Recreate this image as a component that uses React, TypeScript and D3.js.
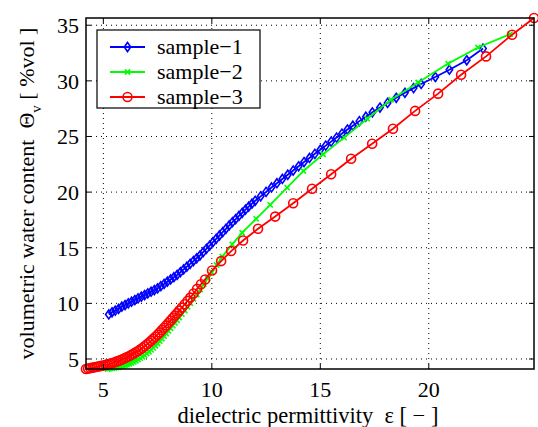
import React from "react";
import * as d3 from "d3";

// sample-1 (blue diamonds)
const s1x = [5.25, 5.4, 5.55, 5.7, 5.85, 6.0, 6.15, 6.3, 6.45, 6.6, 6.75, 6.9, 7.05, 7.2, 7.35, 7.5, 7.65, 7.8, 7.95, 8.1, 8.25, 8.4, 8.55, 8.7, 8.85, 9.0, 9.15, 9.3, 9.45, 9.6, 9.75, 9.9, 10.05, 10.2, 10.35, 10.5, 10.65, 10.8, 10.95, 11.1, 11.25, 11.4, 11.55, 11.7, 11.85, 12.0, 12.25, 12.5, 12.75, 13.0, 13.25, 13.5, 13.75, 14.0, 14.25, 14.5, 14.75, 15.0, 15.25, 15.5, 15.75, 16.0, 16.25, 16.5, 16.8, 17.1, 17.4, 17.75, 18.1, 18.5, 18.9, 19.3, 19.65, 20.3, 20.95, 21.75, 22.5];
const s1y = [9.0, 9.2, 9.35, 9.5, 9.7, 9.85, 10.0, 10.15, 10.3, 10.45, 10.6, 10.75, 10.9, 11.05, 11.2, 11.35, 11.55, 11.75, 11.95, 12.15, 12.35, 12.55, 12.8, 13.05, 13.3, 13.55, 13.8, 14.05, 14.3, 14.6, 14.9, 15.2, 15.5, 15.8, 16.1, 16.4, 16.7, 17.0, 17.3, 17.58, 17.86, 18.14, 18.42, 18.7, 18.96, 19.22, 19.62, 20.02, 20.42, 20.8, 21.18, 21.56, 21.94, 22.32, 22.7, 23.07, 23.44, 23.81, 24.18, 24.54, 24.9, 25.26, 25.62, 25.97, 26.38, 26.78, 27.17, 27.6, 28.02, 28.48, 28.93, 29.35, 29.72, 30.35, 31.0, 31.85, 32.9];

// sample-2 (green crosses)
const s2x = [5.2, 5.3, 5.4, 5.5, 5.6, 5.7, 5.8, 5.9, 6.0, 6.1, 6.2, 6.3, 6.4, 6.5, 6.6, 6.7, 6.8, 6.9, 7.0, 7.1, 7.2, 7.3, 7.4, 7.5, 7.6, 7.7, 7.8, 7.9, 8.0, 8.1, 8.2, 8.3, 8.4, 8.5, 8.62, 8.75, 8.88, 9.01, 9.15, 9.3, 9.46, 9.63, 9.81, 10.0, 10.22, 10.48, 10.94, 11.4, 12.04, 12.69, 13.47, 14.22, 15.13, 16.1, 17.16, 18.26, 19.51, 20.89, 22.27, 23.75];
const s2y = [4.1, 4.13, 4.16, 4.19, 4.22, 4.26, 4.31, 4.37, 4.43, 4.5, 4.57, 4.65, 4.74, 4.84, 4.95, 5.07, 5.2, 5.34, 5.49, 5.65, 5.82, 6.0, 6.19, 6.39, 6.6, 6.82, 7.05, 7.28, 7.52, 7.76, 8.0, 8.24, 8.48, 8.73, 9.03, 9.36, 9.69, 10.02, 10.4, 10.8, 11.24, 11.72, 12.24, 12.8, 13.45, 14.2, 15.3, 16.35, 17.6, 18.85, 20.4, 21.9, 23.4, 24.9, 26.6, 28.3, 29.85, 31.55, 33.0, 34.2];

// sample-3 (red circles)
const s3x = [4.2, 4.3, 4.4, 4.5, 4.6, 4.7, 4.8, 4.9, 5.0, 5.1, 5.2, 5.3, 5.4, 5.5, 5.6, 5.7, 5.8, 5.9, 6.0, 6.1, 6.2, 6.3, 6.4, 6.5, 6.6, 6.7, 6.8, 6.9, 7.0, 7.1, 7.2, 7.3, 7.4, 7.5, 7.6, 7.7, 7.8, 7.9, 8.0, 8.1, 8.2, 8.3, 8.4, 8.5, 8.62, 8.75, 8.88, 9.01, 9.16, 9.32, 9.5, 9.69, 10.01, 10.43, 10.89, 11.44, 12.13, 12.92, 13.75, 14.62, 15.5, 16.42, 17.39, 18.35, 19.37, 20.43, 21.49, 22.64, 23.84, 24.85];
const s3y = [4.1, 4.14, 4.18, 4.22, 4.26, 4.3, 4.34, 4.38, 4.42, 4.47, 4.52, 4.57, 4.63, 4.69, 4.76, 4.83, 4.91, 4.99, 5.08, 5.17, 5.27, 5.37, 5.48, 5.6, 5.72, 5.85, 5.99, 6.14, 6.3, 6.46, 6.63, 6.81, 7.0, 7.19, 7.39, 7.6, 7.81, 8.02, 8.24, 8.46, 8.68, 8.9, 9.12, 9.35, 9.62, 9.92, 10.22, 10.52, 10.88, 11.3, 11.72, 12.15, 12.95, 13.8, 14.7, 15.65, 16.7, 17.8, 19.0, 20.3, 21.6, 23.0, 24.35, 25.7, 27.3, 28.85, 30.55, 32.2, 34.15, 35.65];

const xTicks = [5, 10, 15, 20];
const yTicks = [5, 10, 15, 20, 25, 30, 35];
const seriesNames = ["sample\u22121", "sample\u22122", "sample\u22123"];
const seriesColors = ["#0000ff", "#00ff00", "#ff0000"];

const W = 538;
const H = 427;
const margin = { left: 86, right: 4, top: 18, bottom: 58 };
const font = "Liberation Serif, DejaVu Serif, serif";

function Marker({ kind, x, y, color }: { kind: number; x: number; y: number; color: string }) {
  if (kind === 0) {
    const r = 4.5;
    return (
      <path
        d={`M${x},${y - r}L${x + 3.2},${y}L${x},${y + r}L${x - 3.2},${y}Z`}
        fill="none"
        stroke={color}
        strokeWidth={1.6}
      />
    );
  }
  if (kind === 1) {
    const r = 2.6;
    return (
      <path
        d={`M${x - r},${y - r}L${x + r},${y + r}M${x - r},${y + r}L${x + r},${y - r}`}
        stroke={color}
        strokeWidth={1.6}
      />
    );
  }
  return <circle cx={x} cy={y} r={4.5} fill="none" stroke={color} strokeWidth={1.6} />;
}

export default function App() {
  const x = d3.scaleLinear().domain([4.2, 24.85]).range([margin.left, W - margin.right]);
  const y = d3.scaleLinear().domain([4.1, 35.65]).range([H - margin.bottom, margin.top]);

  const series = [
    s1x.map((v, i) => [v, s1y[i]]),
    s2x.map((v, i) => [v, s2y[i]]),
    s3x.map((v, i) => [v, s3y[i]]),
  ];

  const line = d3
    .line<number[]>()
    .x((d) => x(d[0]))
    .y((d) => y(d[1]));

  const x0 = margin.left;
  const x1 = W - margin.right;
  const y0 = margin.top;
  const y1 = H - margin.bottom;

  // legend box
  const lg = { x: 97, y: 30, w: 163, h: 78 };

  return (
    <svg
      width={W}
      height={H}
      style={{ position: "absolute", left: 0, top: 0, background: "#fff", fontFamily: font }}
    >
      <rect x={0} y={0} width={W} height={H} fill="#fff" />

      {/* grid */}
      <g stroke="#000" strokeWidth={1} strokeDasharray="1,4">
        {xTicks.map((t) => (
          <line key={"gx" + t} x1={x(t)} x2={x(t)} y1={y0} y2={y1} />
        ))}
        {yTicks.map((t) => (
          <line key={"gy" + t} x1={x0} x2={x1} y1={y(t)} y2={y(t)} />
        ))}
      </g>

      {/* series */}
      {series.map((pts, si) => (
        <g key={"s" + si}>
          <path d={line(pts) || ""} fill="none" stroke={seriesColors[si]} strokeWidth={1.8} />
          {pts.map((p, i) => (
            <Marker key={i} kind={si} x={x(p[0])} y={y(p[1])} color={seriesColors[si]} />
          ))}
        </g>
      ))}

      {/* box + ticks */}
      <rect x={x0} y={y0} width={x1 - x0} height={y1 - y0} fill="none" stroke="#000" strokeWidth={1.5} />
      <g stroke="#000" strokeWidth={1}>
        {xTicks.map((t) => (
          <g key={"tx" + t}>
            <line x1={x(t)} x2={x(t)} y1={y1} y2={y1 - 5} />
            <line x1={x(t)} x2={x(t)} y1={y0} y2={y0 + 5} />
          </g>
        ))}
        {yTicks.map((t) => (
          <g key={"ty" + t}>
            <line x1={x0} x2={x0 + 5} y1={y(t)} y2={y(t)} />
            <line x1={x1} x2={x1 - 5} y1={y(t)} y2={y(t)} />
          </g>
        ))}
      </g>

      {/* tick labels */}
      <g fontSize={22} fill="#000">
        {xTicks.map((t) => (
          <text key={"lx" + t} x={x(t)} y={y1 + 28} textAnchor="middle">
            {t}
          </text>
        ))}
        {yTicks.map((t) => (
          <text key={"ly" + t} x={x0 - 7} y={y(t) + 8} textAnchor="end">
            {t}
          </text>
        ))}
      </g>

      {/* axis labels */}
      <text
        x={(x0 + x1) / 2 - 2}
        y={H - 4}
        textAnchor="middle"
        fontSize={22.5}
        style={{ whiteSpace: "pre" }}
      >
        {"dielectric permittivity  ε [ − ]"}
      </text>
      <text
        transform={`translate(34,${(y0 + y1) / 2}) rotate(-90)`}
        textAnchor="middle"
        fontSize={22}
        style={{ whiteSpace: "pre" }}
      >
        {"volumetric water content  Θ"}
        <tspan dy={7} fontSize={15}>v</tspan>
        <tspan dy={-7}>{" [ %vol ]"}</tspan>
      </text>

      {/* legend */}
      <g>
        <rect x={lg.x} y={lg.y} width={lg.w} height={lg.h} fill="#fff" stroke="#000" strokeWidth={1.2} />
        {seriesNames.map((name, i) => {
          const cy = lg.y + 17 + i * 25;
          return (
            <g key={name}>
              <line x1={lg.x + 13} x2={lg.x + 48} y1={cy} y2={cy} stroke={seriesColors[i]} strokeWidth={1.8} />
              <Marker kind={i} x={lg.x + 30.5} y={cy} color={seriesColors[i]} />
              <text x={lg.x + 60} y={cy + 7} fontSize={22}>
                {name}
              </text>
            </g>
          );
        })}
      </g>
    </svg>
  );
}
